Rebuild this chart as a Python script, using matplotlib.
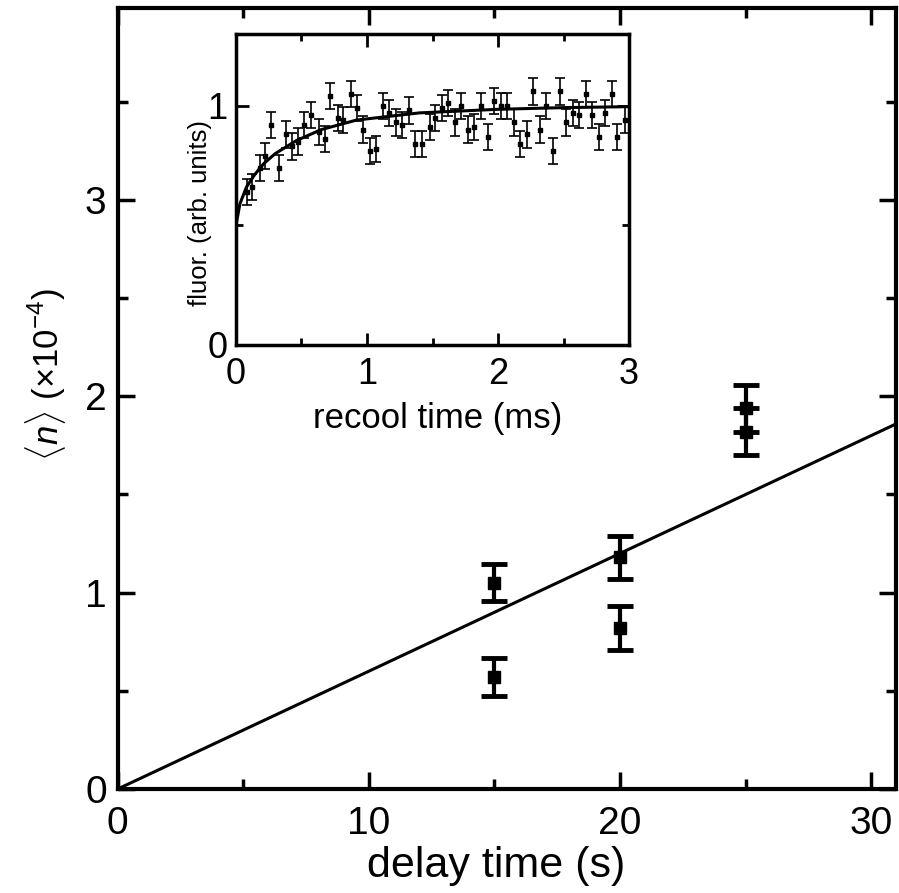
"""
Heating rate vs delay time, with recooling fluorescence inset
"""

from matplotlib import pyplot as plt
from matplotlib.ticker import MultipleLocator

plt.rcParams['font.family'] = ['Liberation Sans', 'DejaVu Sans']
plt.rcParams['mathtext.fontset'] = 'custom'
plt.rcParams['mathtext.rm'] = 'Liberation Sans'
plt.rcParams['mathtext.it'] = 'Liberation Sans:italic'

# main panel: <n> in units of 1e-4
delay = [15, 15, 20, 20, 25, 25]
n_mean = [1.05, 0.57, 1.18, 0.82, 1.94, 1.82]
n_err = [0.095, 0.097, 0.11, 0.11, 0.12, 0.12]
fit_delay = [0, 31]
fit_n = [0, 1.86]

# inset: fluorescence after recooling
recool_t = [0.085, 0.122, 0.186, 0.22, 0.27, 0.33, 0.38, 0.43, 0.47, 0.52,
            0.57, 0.63, 0.68, 0.72, 0.78, 0.82, 0.875, 0.92, 0.97, 1.02,
            1.07, 1.12, 1.17, 1.22, 1.27, 1.32, 1.37, 1.42, 1.48, 1.52,
            1.57, 1.62, 1.67, 1.72, 1.77, 1.82, 1.87, 1.92, 1.97, 2.02,
            2.07, 2.12, 2.17, 2.22, 2.27, 2.32, 2.37, 2.42, 2.47, 2.52,
            2.57, 2.62, 2.67, 2.72, 2.77, 2.82, 2.87, 2.91, 2.97]
fluor = [0.64, 0.66, 0.74, 0.79, 0.92, 0.74, 0.88, 0.83, 0.85, 0.92,
         0.96, 0.89, 0.86, 1.04, 0.95, 0.94, 1.05, 0.99, 0.90, 0.81,
         0.82, 1.00, 0.97, 0.93, 0.92, 0.98, 0.84, 0.84, 0.91, 0.95,
         0.99, 1.01, 0.93, 1.00, 0.90, 0.91, 1.00, 0.87, 1.02, 1.00,
         1.00, 0.93, 0.84, 0.88, 1.06, 0.90, 1.00, 0.81, 1.06, 0.93,
         0.97, 0.96, 1.05, 0.96, 0.87, 0.97, 1.05, 0.87, 0.94]
fluor_err = 0.055
curve_t = [0, 0.03, 0.08, 0.14, 0.21, 0.3, 0.46, 0.65, 0.92, 1.4, 2.0, 2.5, 3.0]
curve_f = [0.50, 0.59, 0.66, 0.71, 0.757, 0.80, 0.854, 0.90, 0.94, 0.97, 0.985, 0.992, 0.996]

fig = plt.figure(figsize=(8.99, 8.93), dpi=100)
ax = fig.add_axes([0.131, 0.1165, 0.866, 0.875])

ax.plot(fit_delay, fit_n, color='black', lw=2.2)
ax.errorbar(delay, n_mean, yerr=n_err, fmt='s', color='black', ms=9,
            elinewidth=3, capsize=9.5, capthick=3.5)
ax.set_xlim(0, 31)
ax.set_ylim(0, 3.98)
ax.xaxis.set_major_locator(MultipleLocator(10))
ax.xaxis.set_minor_locator(MultipleLocator(5))
ax.yaxis.set_major_locator(MultipleLocator(1))
ax.yaxis.set_minor_locator(MultipleLocator(0.5))
ax.tick_params(which='both', direction='in', top=True, right=True,
               width=2.5, labelsize=28)
ax.tick_params(axis='x', pad=12)
ax.tick_params(axis='y', pad=8)
ax.tick_params(which='major', length=12)
ax.tick_params(which='minor', length=7)
for s in ax.spines.values():
    s.set_linewidth(3)
ax.set_xlabel('delay time (s)', fontsize=31)
ax.xaxis.set_label_coords(0.4865, -0.073)
ax.set_ylabel(r'$\langle n\rangle$ ($\times$10$^{-4}$)', fontsize=25)
ax.yaxis.set_label_coords(-0.064, 0.53)

# inset
ins = fig.add_axes([0.2625, 0.6137, 0.4372, 0.3483])
ins.plot(curve_t, curve_f, color='black', lw=2.2)
ins.errorbar(recool_t, fluor, yerr=fluor_err, fmt='s', color='black', ms=3.5,
             elinewidth=1.2, capsize=3.6, capthick=1.2)
ins.set_xlim(0, 3)
ins.set_ylim(0, 1.3)
ins.xaxis.set_major_locator(MultipleLocator(1))
ins.xaxis.set_minor_locator(MultipleLocator(0.5))
ins.yaxis.set_major_locator(MultipleLocator(1))
ins.yaxis.set_minor_locator(MultipleLocator(0.5))
ins.tick_params(which='both', direction='in', top=True, right=True,
                width=2, labelsize=26)
ins.tick_params(axis='x', pad=9)
ins.tick_params(axis='y', pad=6)
ins.tick_params(which='major', length=9)
ins.tick_params(which='minor', length=5)
for s in ins.spines.values():
    s.set_linewidth(2.5)
ins.set_xlabel('recool time (ms)', fontsize=25)
ins.xaxis.set_label_coords(0.514, -0.183)
ins.set_ylabel('fluor. (arb. units)', fontsize=18.5)
ins.yaxis.set_label_coords(-0.062, 0.425)

plt.savefig('out.png', dpi=100)
